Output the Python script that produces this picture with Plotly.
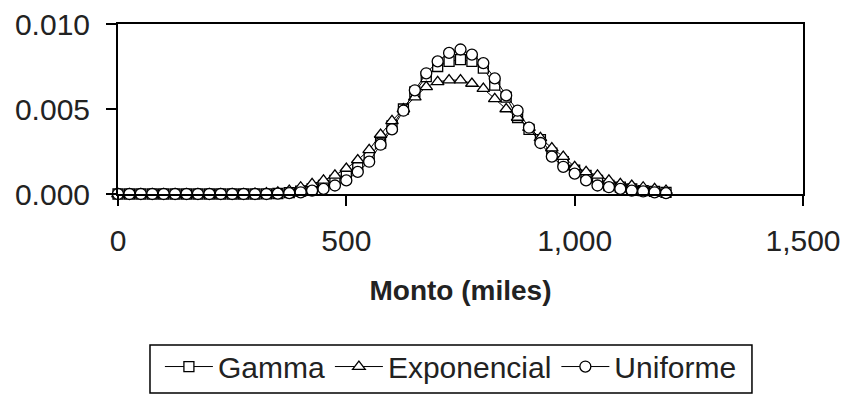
import plotly.graph_objects as go

# Monto en miles, paso de 25
monto = list(range(0, 1225, 25))

gamma = [0, 0, 0, 0, 0, 0, 0, 0, 0, 0, 0, 0, 0,
         0.00001, 0.00003, 0.00008, 0.00017, 0.0003, 0.0005, 0.0008, 0.0011,
         0.0016, 0.0022, 0.0030, 0.0040, 0.0050, 0.0060, 0.0069, 0.0075,
         0.0078, 0.0079, 0.0078, 0.0074, 0.0064, 0.0057, 0.0045, 0.0038,
         0.0032, 0.0024, 0.0019, 0.0014, 0.0011, 0.0008, 0.0005, 0.0004,
         0.0003, 0.0002, 0.00015, 0.0001]

exponencial = [0, 0, 0, 0, 0, 0, 0, 0, 0, 0, 0, 0, 0.00002,
               0.00005, 0.0001, 0.0002, 0.0004, 0.0006, 0.0008, 0.0011, 0.0015,
               0.0020, 0.0026, 0.0035, 0.0043, 0.0050, 0.0057, 0.0063, 0.0066,
               0.0067, 0.0067, 0.0065, 0.0062, 0.0056, 0.0050, 0.0045, 0.0039,
               0.0033, 0.0027, 0.0022, 0.0016, 0.0013, 0.0011, 0.0008, 0.0006,
               0.0005, 0.0004, 0.0003, 0.0002]

uniforme = [0, 0, 0, 0, 0, 0, 0, 0, 0, 0, 0, 0, 0,
            0, 0.00002, 0.00005, 0.0001, 0.0002, 0.0003, 0.0005, 0.0008,
            0.0013, 0.0019, 0.0029, 0.0038, 0.0049, 0.0061, 0.0071, 0.0078,
            0.0083, 0.0085, 0.0082, 0.0077, 0.0068, 0.0058, 0.0049, 0.0039,
            0.0030, 0.0022, 0.0016, 0.0012, 0.0008, 0.0005, 0.0004, 0.0003,
            0.0002, 0.00015, 0.0001, 0.00005]

x_ticks = [0, 500, 1000, 1500]
y_ticks = [0.0, 0.005, 0.010]

FONT = "Liberation Sans, Arial, sans-serif"
INK = "#222222"

series = [
    ("Gamma", gamma, "square", 10),
    ("Exponencial", exponencial, "triangle-up", 11),
    ("Uniforme", uniforme, "circle", 11),
]

fig = go.Figure()
for name, vals, symbol, size in series:
    fig.add_trace(go.Scatter(
        x=monto, y=vals, name=name, mode="lines+markers",
        line=dict(color="black", width=1),
        marker=dict(symbol=symbol, size=size, color="white",
                    line=dict(color="black", width=1.3)),
        cliponaxis=False,
    ))

# frame around the legend entries (tighter than plotly's own legend box)
fig.add_shape(
    type="rect", xref="paper", yref="paper",
    x0=0.0467, x1=0.9255, y0=-1.17, y1=-0.888,
    line=dict(color="black", width=1.5), fillcolor="rgba(0,0,0,0)",
)

fig.update_layout(
    width=848, height=396,
    margin=dict(l=118, r=45, t=24, b=202, autoexpand=False),
    paper_bgcolor="white", plot_bgcolor="white",
    font=dict(family=FONT, size=30, color=INK),
    showlegend=True,
    legend=dict(
        orientation="h", x=0.486, xanchor="center", y=-0.862, yanchor="top",
        borderwidth=0, bgcolor="rgba(0,0,0,0)",
        font=dict(family=FONT, size=30, color=INK),
        itemwidth=48, tracegroupgap=0,
    ),
)

fig.update_xaxes(
    range=[0, 1500], tickvals=x_ticks, tickformat=",",
    showline=True, linecolor="black", linewidth=2, mirror=True,
    ticks="outside", ticklen=10, tickwidth=2, tickcolor="black",
    showgrid=False, zeroline=False, ticklabelstandoff=9,
    tickfont=dict(family=FONT, size=30, color=INK),
    title=dict(text="<b>Monto (miles)</b>", standoff=24,
               font=dict(family=FONT, size=28, color=INK)),
)
fig.update_yaxes(
    range=[0, 0.010], tickvals=y_ticks, tickformat=".3f",
    showline=True, linecolor="black", linewidth=2, mirror=True,
    ticks="outside", ticklen=10, tickwidth=2, tickcolor="black",
    showgrid=False, zeroline=False, ticklabelstandoff=10,
    tickfont=dict(family=FONT, size=30, color=INK),
)

fig.write_html("out.html")
